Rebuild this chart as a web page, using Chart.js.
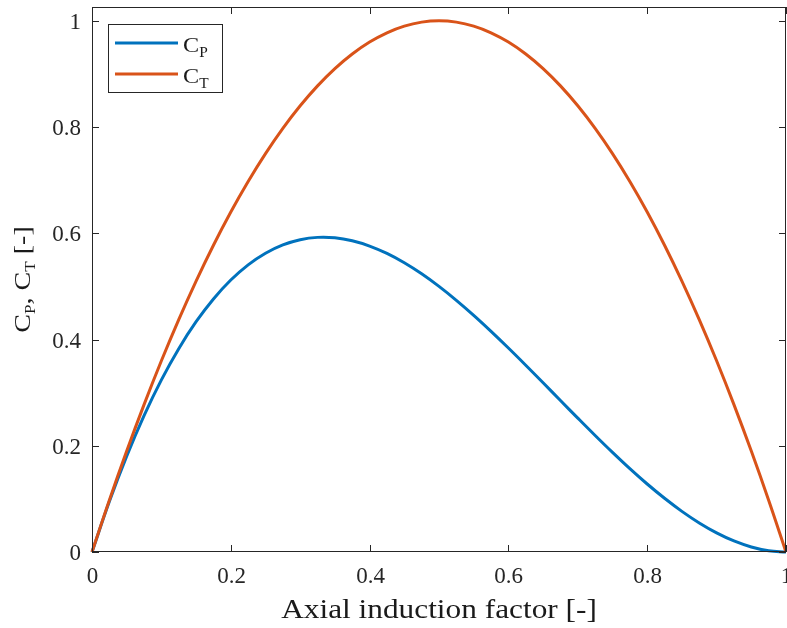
<!DOCTYPE html>
<html>
<head>
<meta charset="utf-8">
<script src="https://cdn.jsdelivr.net/npm/chart.js@4/dist/chart.umd.min.js"></script>
<style>
    html, body { margin: 0; padding: 0; background: #ffffff; }
    #wrap { width: 787px; height: 628px; }
</style>
</head>
<body>
<div id="wrap"><canvas id="chart" width="787" height="628"></canvas></div>
<script>
// --- Data ---
const inductionFactor = [
    0, 0.025, 0.05, 0.075, 0.1, 0.125, 0.15, 0.175, 0.2, 0.225,
    0.25, 0.275, 0.3, 0.325, 0.35, 0.375, 0.4, 0.425, 0.45, 0.475,
    0.5, 0.525, 0.55, 0.575, 0.6, 0.625, 0.65, 0.675, 0.7, 0.725,
    0.75, 0.775, 0.8, 0.825, 0.85, 0.875, 0.9, 0.925, 0.95, 0.975, 1
];
const powerCoeff = [
    0, 0.0951, 0.1805, 0.2567, 0.324, 0.3828, 0.4335, 0.4764, 0.512, 0.5406,
    0.5625, 0.5782, 0.588, 0.5923, 0.5915, 0.5859, 0.576, 0.5621, 0.5445, 0.5237,
    0.5, 0.4738, 0.4455, 0.4154, 0.384, 0.3516, 0.3185, 0.2852, 0.252, 0.2193,
    0.1875, 0.1569, 0.128, 0.1011, 0.0765, 0.0547, 0.036, 0.0208, 0.0095, 0.0024, 0
];
const thrustCoeff = [
    0, 0.0975, 0.19, 0.2775, 0.36, 0.4375, 0.51, 0.5775, 0.64, 0.6975,
    0.75, 0.7975, 0.84, 0.8775, 0.91, 0.9375, 0.96, 0.9775, 0.99, 0.9975,
    1, 0.9975, 0.99, 0.9775, 0.96, 0.9375, 0.91, 0.8775, 0.84, 0.7975,
    0.75, 0.6975, 0.64, 0.5775, 0.51, 0.4375, 0.36, 0.2775, 0.19, 0.0975, 0
];
const xTickLabels = ["0", "0.2", "0.4", "0.6", "0.8", "1"];
const yTickLabels = ["0", "0.2", "0.4", "0.6", "0.8", "1"];

const FONT = "'Liberation Serif', 'DejaVu Serif', serif";
const AXIS_COLOR = "#262626";
const BLUE = "#0072BD";
const ORANGE = "#D95319";

// draw text made of [main, subscript] pieces (stretched horizontally), returns width
function drawPieces(ctx, pieces, x, y, size, stretch, subRatio, measureOnly) {
    let cx = 0;
    ctx.save();
    ctx.translate(x, y);
    ctx.scale(stretch, 1);
    pieces.forEach(([main, sub]) => {
        ctx.font = `${size}px ${FONT}`;
        if (!measureOnly) ctx.fillText(main, cx, 0);
        cx += ctx.measureText(main).width;
        if (sub) {
            ctx.font = `${Math.round(size * subRatio)}px ${FONT}`;
            if (!measureOnly) ctx.fillText(sub, cx, size * 0.22);
            cx += ctx.measureText(sub).width;
        }
    });
    ctx.restore();
    return cx * stretch;
}

const matlabAxes = {
    id: "matlabAxes",
    afterDatasetsDraw(chart) {
        const ctx = chart.ctx;
        const area = chart.chartArea;
        const xs = chart.scales.x;
        const ys = chart.scales.y;
        const tickLen = 7;

        ctx.save();
        ctx.strokeStyle = AXIS_COLOR;
        ctx.fillStyle = AXIS_COLOR;
        ctx.lineWidth = 1;

        // box
        ctx.strokeRect(Math.round(area.left) + 0.5, Math.round(area.top) + 0.5,
            Math.round(area.right - area.left) - 1, Math.round(area.bottom - area.top) - 1);

        // x ticks + labels
        ctx.font = `23px ${FONT}`;
        ctx.textAlign = "center";
        ctx.textBaseline = "top";
        xTickLabels.forEach(lbl => {
            const px = Math.round(xs.getPixelForValue(parseFloat(lbl))) + 0.5;
            ctx.beginPath();
            ctx.moveTo(px, area.bottom); ctx.lineTo(px, area.bottom - tickLen);
            ctx.moveTo(px, area.top); ctx.lineTo(px, area.top + tickLen);
            ctx.stroke();
            ctx.fillText(lbl, px, area.bottom + 13);
        });

        // y ticks + labels
        ctx.textAlign = "right";
        ctx.textBaseline = "middle";
        yTickLabels.forEach(lbl => {
            const py = Math.round(ys.getPixelForValue(parseFloat(lbl))) + 0.5;
            ctx.beginPath();
            ctx.moveTo(area.left, py); ctx.lineTo(area.left + tickLen, py);
            ctx.moveTo(area.right, py); ctx.lineTo(area.right - tickLen, py);
            ctx.stroke();
            ctx.fillText(lbl, area.left - 11, py + 1);
        });

        ctx.fillStyle = "#1a1a1a";
        ctx.textAlign = "left";
        ctx.textBaseline = "alphabetic";

        // x title
        const xTitle = [["Axial induction factor [-]", ""]];
        const xw = drawPieces(ctx, xTitle, 0, 0, 27, 1.16, 0.6, true);
        drawPieces(ctx, xTitle, (area.left + area.right) / 2 - xw / 2, 618, 27, 1.16, 0.6, false);

        // y title (rotated)
        const yTitle = [["C", "P"], [", C", "T"], [" [-]", ""]];
        const yw = drawPieces(ctx, yTitle, 0, 0, 23, 1.22, 0.62, true);
        ctx.save();
        ctx.translate(30, (area.top + area.bottom) / 2 + yw / 2);
        ctx.rotate(-Math.PI / 2);
        drawPieces(ctx, yTitle, 0, 0, 23, 1.22, 0.62, false);
        ctx.restore();

        // legend
        const lx = area.left + 16, ly = area.top + 17;
        ctx.fillStyle = "#ffffff";
        ctx.fillRect(lx, ly, 114, 68);
        ctx.strokeStyle = AXIS_COLOR;
        ctx.strokeRect(lx + 0.5, ly + 0.5, 114, 68);
        const entries = [[["C", "P"], BLUE], [["C", "T"], ORANGE]];
        entries.forEach(([piece, color], i) => {
            const ey = ly + 19 + i * 31;
            ctx.strokeStyle = color;
            ctx.lineWidth = 3;
            ctx.beginPath();
            ctx.moveTo(lx + 7, ey); ctx.lineTo(lx + 70, ey);
            ctx.stroke();
            ctx.fillStyle = "#1a1a1a";
            drawPieces(ctx, [piece], lx + 75, ey + 9, 22, 1.1, 0.62, false);
        });
        ctx.restore();
    }
};

const ctx = document.getElementById("chart").getContext("2d");
new Chart(ctx, {
    type: "line",
    data: {
        datasets: [
            {
                label: "CP",
                data: inductionFactor.map((a, i) => ({ x: a, y: powerCoeff[i] })),
                borderColor: BLUE,
                borderWidth: 3,
                pointRadius: 0,
                tension: 0.4,
                clip: 6,
                order: 1
            },
            {
                label: "CT",
                data: inductionFactor.map((a, i) => ({ x: a, y: thrustCoeff[i] })),
                borderColor: ORANGE,
                borderWidth: 3,
                pointRadius: 0,
                tension: 0.4,
                clip: 6,
                order: 0
            }
        ]
    },
    options: {
        responsive: false,
        animation: false,
        layout: { padding: { top: 7, right: 1, left: 0, bottom: 0 } },
        plugins: { legend: { display: false }, tooltip: { enabled: false } },
        scales: {
            x: {
                type: "linear",
                min: 0,
                max: 1,
                grid: { display: false },
                border: { display: false },
                ticks: { display: false },
                afterFit: scale => { scale.height = 76; }
            },
            y: {
                min: 0,
                max: 1.026,
                grid: { display: false },
                border: { display: false },
                ticks: { display: false },
                afterFit: scale => { scale.width = 92; }
            }
        }
    },
    plugins: [matlabAxes]
});
</script>
</body>
</html>
